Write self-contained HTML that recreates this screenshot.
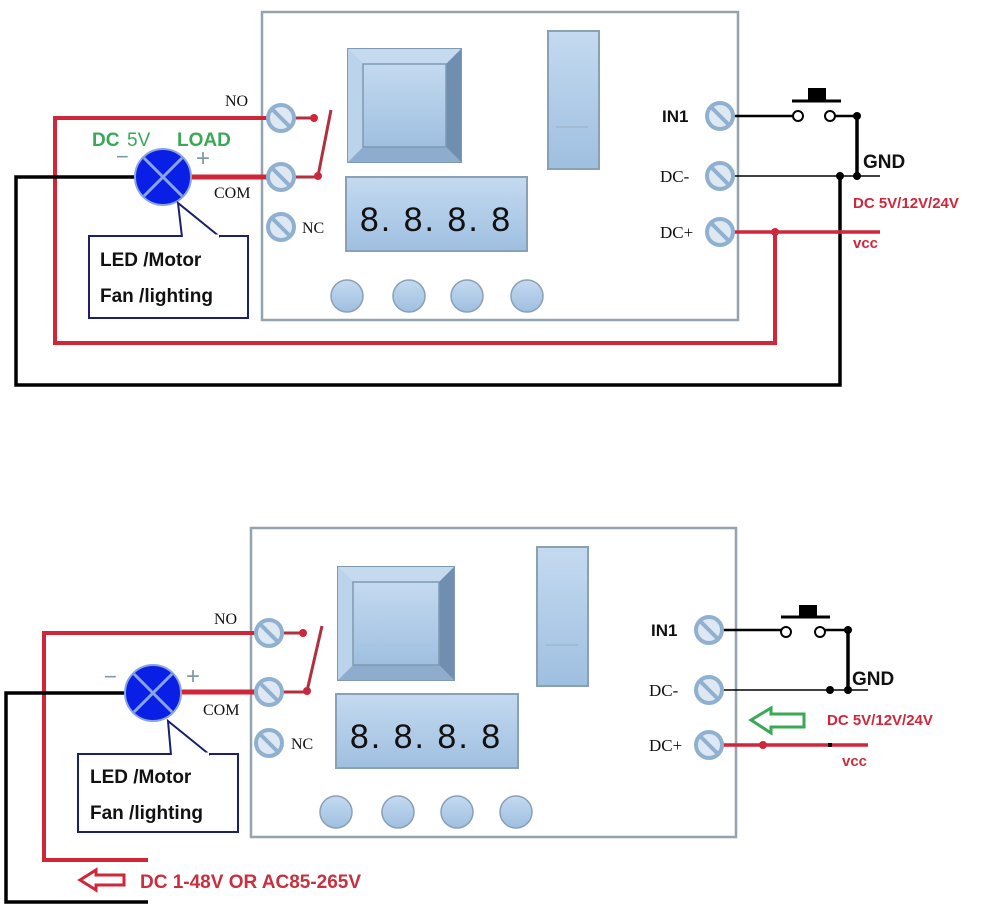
<!DOCTYPE html>
<html><head><meta charset="utf-8"><style>
html,body{margin:0;padding:0;background:#fff;}
svg{display:block;}
text{font-family:"Liberation Sans",sans-serif;}
.serif{font-family:"Liberation Serif",serif;}
</style></head><body>
<svg width="1000" height="918" viewBox="0 0 1000 918" xmlns="http://www.w3.org/2000/svg">
<defs>
<linearGradient id="bl" x1="0" y1="0" x2="0" y2="1"><stop offset="0" stop-color="#c4daf0"/><stop offset="1" stop-color="#9fbfe0"/></linearGradient>
<g id="term"><circle r="13" fill="#dde8f3" stroke="#8fb0cf" stroke-width="4"/><line x1="-8" y1="-8" x2="8" y2="8" stroke="#8fb0cf" stroke-width="4"/></g>
<g id="lamp"><circle r="28" fill="#0a1fe6" stroke="#8aa4e0" stroke-width="2"/><line x1="-19" y1="-19" x2="19" y2="19" stroke="#8aa4e8" stroke-width="3"/><line x1="19" y1="-19" x2="-19" y2="19" stroke="#8aa4e8" stroke-width="3"/></g>
</defs>

<!-- ============ TOP PANEL ============ -->
<rect x="262" y="12" width="476" height="308" fill="#fff" stroke="#93a4ae" stroke-width="2.5"/>
<!-- relay -->
<rect x="348" y="49" width="113" height="113" fill="#a9c6e6" stroke="#7f99b2" stroke-width="2"/>
<polygon points="348,49 461,49 446,64 363,64" fill="#c5daef"/>
<polygon points="461,49 461,162 446,147 446,64" fill="#6f8eb0"/>
<polygon points="348,162 461,162 446,147 363,147" fill="#8eaccd"/>
<polygon points="348,49 363,64 363,147 348,162" fill="#bcd3ec"/>
<rect x="363" y="64" width="83" height="83" fill="url(#bl)" stroke="#7f99b2" stroke-width="1.5"/>
<!-- switch -->
<rect x="548" y="31" width="51" height="138" fill="url(#bl)" stroke="#8aa0b5" stroke-width="2"/>
<line x1="556" y1="127" x2="588" y2="127" stroke="#9fb6cf" stroke-width="1.5"/>
<!-- display -->
<rect x="346" y="177" width="181" height="74" fill="url(#bl)" stroke="#8aa0b5" stroke-width="2"/>
<text x="436" y="231" text-anchor="middle" font-size="34" fill="#111" letter-spacing="2">8. 8. 8. 8</text>
<!-- buttons -->
<g fill="url(#bl)" stroke="#8aa0b5" stroke-width="1.5">
<circle cx="347" cy="296" r="16"/><circle cx="409" cy="296" r="16"/><circle cx="467" cy="296" r="16"/><circle cx="527" cy="296" r="16"/></g>

<!-- wires top -->
<polyline points="268,118 55,118 55,343 775,343 775,232" fill="none" stroke="#d0263a" stroke-width="4"/>
<polyline points="135,177 16,177 16,385 840,385 840,176" fill="none" stroke="#000" stroke-width="3.5"/>
<line x1="190" y1="177" x2="268" y2="177" stroke="#d0263a" stroke-width="5"/>
<line x1="294" y1="118" x2="314" y2="118" stroke="#b03040" stroke-width="3"/>
<circle cx="314" cy="118" r="4" fill="#d0263a"/>
<line x1="294" y1="177" x2="318" y2="177" stroke="#b03040" stroke-width="3"/>
<circle cx="318" cy="176" r="4" fill="#d0263a"/>
<line x1="318" y1="176" x2="331" y2="110" stroke="#b03040" stroke-width="3"/>
<use href="#term" x="281" y="118"/><use href="#term" x="281" y="177"/><use href="#term" x="281" y="227"/>
<text x="225" y="106" class="serif" font-size="16" fill="#111">NO</text>
<text x="214" y="198" class="serif" font-size="16" fill="#111">COM</text>
<text x="302" y="233" class="serif" font-size="16" fill="#111">NC</text>
<use href="#lamp" x="163" y="177"/>
<text x="92" y="146" font-size="19" font-weight="bold" fill="#3aa856">DC</text>
<text x="127" y="146" font-size="19" fill="#3aa856">5V</text>
<text x="177" y="146" font-size="19" font-weight="bold" fill="#3aa856">LOAD</text>
<text x="116" y="164" font-size="22" fill="#7d9aa5">−</text>
<text x="196" y="166" font-size="24" fill="#7d9aa5">+</text>
<!-- callout -->
<rect x="89" y="236" width="159" height="82" fill="#fff" stroke="#1c1f6e" stroke-width="2"/>
<polyline points="182,237 178,203 220,237" fill="#fff" stroke="#1c1f6e" stroke-width="2"/>
<line x1="183" y1="236" x2="219" y2="236" stroke="#fff" stroke-width="3"/>
<text x="100" y="266" font-size="19" font-weight="bold" fill="#111">LED /Motor</text>
<text x="100" y="302" font-size="19" font-weight="bold" fill="#111">Fan /lighting</text>

<!-- right top -->
<line x1="733" y1="116" x2="793" y2="116" stroke="#000" stroke-width="2.5"/>
<circle cx="798" cy="116" r="5" fill="#fff" stroke="#000" stroke-width="2"/>
<circle cx="830" cy="116" r="5" fill="#fff" stroke="#000" stroke-width="2"/>
<line x1="792" y1="101" x2="841" y2="101" stroke="#000" stroke-width="3"/>
<rect x="808" y="88" width="18" height="13" fill="#000"/>
<line x1="835" y1="116" x2="857" y2="116" stroke="#000" stroke-width="2.5"/>
<line x1="857" y1="116" x2="857" y2="176" stroke="#000" stroke-width="3.5"/>
<circle cx="857" cy="116" r="4" fill="#000"/>
<line x1="733" y1="176" x2="880" y2="176" stroke="#000" stroke-width="1.5"/>
<circle cx="840" cy="176" r="4" fill="#000"/><circle cx="857" cy="176" r="4" fill="#000"/>
<line x1="733" y1="232" x2="880" y2="232" stroke="#d0263a" stroke-width="3.5"/>
<circle cx="775" cy="232" r="4" fill="#d0263a"/>
<use href="#term" x="720" y="116"/><use href="#term" x="720" y="176"/><use href="#term" x="720" y="232"/>
<text x="662" y="122" font-size="17" font-weight="bold" fill="#111">IN1</text>
<text x="660" y="182" class="serif" font-size="17" fill="#111">DC-</text>
<text x="660" y="238" class="serif" font-size="17" fill="#111">DC+</text>
<text x="863" y="168" font-size="19" font-weight="bold" fill="#111">GND</text>
<text x="853" y="208" font-size="15" font-weight="bold" fill="#d0263a">DC 5V/12V/24V</text>
<text x="853" y="248" font-size="15" font-weight="bold" fill="#d0263a">vcc</text>

<!-- ============ BOTTOM PANEL ============ -->
<rect x="251" y="528" width="485" height="309" fill="#fff" stroke="#93a4ae" stroke-width="2.5"/>
<rect x="338" y="567" width="116" height="113" fill="#a9c6e6" stroke="#7f99b2" stroke-width="2"/>
<polygon points="338,567 454,567 439,582 353,582" fill="#c5daef"/>
<polygon points="454,567 454,680 439,665 439,582" fill="#6f8eb0"/>
<polygon points="338,680 454,680 439,665 353,665" fill="#8eaccd"/>
<polygon points="338,567 353,582 353,665 338,680" fill="#bcd3ec"/>
<rect x="353" y="582" width="86" height="83" fill="url(#bl)" stroke="#7f99b2" stroke-width="1.5"/>
<rect x="537" y="547" width="51" height="139" fill="url(#bl)" stroke="#8aa0b5" stroke-width="2"/>
<line x1="545" y1="645" x2="578" y2="645" stroke="#9fb6cf" stroke-width="1.5"/>
<rect x="336" y="694" width="182" height="74" fill="url(#bl)" stroke="#8aa0b5" stroke-width="2"/>
<text x="426" y="748" text-anchor="middle" font-size="34" fill="#111" letter-spacing="2">8. 8. 8. 8</text>
<g fill="url(#bl)" stroke="#8aa0b5" stroke-width="1.5">
<circle cx="336" cy="812" r="16"/><circle cx="398" cy="812" r="16"/><circle cx="457" cy="812" r="16"/><circle cx="516" cy="812" r="16"/></g>

<polyline points="256,633 44,633 44,860 148,860" fill="none" stroke="#d0263a" stroke-width="4"/>
<polyline points="125,693 6,693 6,902 148,902" fill="none" stroke="#000" stroke-width="3.5"/>
<line x1="181" y1="692" x2="256" y2="692" stroke="#d0263a" stroke-width="5"/>
<line x1="282" y1="633" x2="303" y2="633" stroke="#b03040" stroke-width="3"/>
<circle cx="303" cy="633" r="4" fill="#d0263a"/>
<line x1="282" y1="692" x2="307" y2="692" stroke="#b03040" stroke-width="3"/>
<circle cx="307" cy="691" r="4" fill="#d0263a"/>
<line x1="307" y1="691" x2="322" y2="626" stroke="#b03040" stroke-width="3"/>
<use href="#term" x="269" y="633"/><use href="#term" x="269" y="692"/><use href="#term" x="269" y="743"/>
<text x="214" y="624" class="serif" font-size="16" fill="#111">NO</text>
<text x="203" y="715" class="serif" font-size="16" fill="#111">COM</text>
<text x="291" y="749" class="serif" font-size="16" fill="#111">NC</text>
<use href="#lamp" x="153" y="693"/>
<text x="104" y="684" font-size="22" fill="#7d9aa5">−</text>
<text x="186" y="684" font-size="24" fill="#7d9aa5">+</text>
<rect x="78" y="754" width="160" height="78" fill="#fff" stroke="#1c1f6e" stroke-width="2"/>
<polyline points="171,755 168,721 210,755" fill="#fff" stroke="#1c1f6e" stroke-width="2"/>
<line x1="172" y1="754" x2="209" y2="754" stroke="#fff" stroke-width="3"/>
<text x="90" y="783" font-size="19" font-weight="bold" fill="#111">LED /Motor</text>
<text x="90" y="819" font-size="19" font-weight="bold" fill="#111">Fan /lighting</text>
<polygon points="80,880 96,870 96,875 124,875 124,885 96,885 96,890" fill="#fff" stroke="#d0263a" stroke-width="3"/>
<text x="140" y="888" font-size="19" font-weight="bold" fill="#c8303e">DC 1-48V OR AC85-265V</text>

<line x1="722" y1="630" x2="782" y2="630" stroke="#000" stroke-width="2.5"/>
<circle cx="786" cy="632" r="5" fill="#fff" stroke="#000" stroke-width="2"/>
<circle cx="820" cy="632" r="5" fill="#fff" stroke="#000" stroke-width="2"/>
<line x1="781" y1="617" x2="830" y2="617" stroke="#000" stroke-width="3"/>
<rect x="799" y="605" width="18" height="12" fill="#000"/>
<line x1="825" y1="630" x2="848" y2="630" stroke="#000" stroke-width="2.5"/>
<line x1="848" y1="630" x2="848" y2="690" stroke="#000" stroke-width="3.5"/>
<circle cx="848" cy="630" r="4" fill="#000"/>
<line x1="722" y1="690" x2="868" y2="690" stroke="#000" stroke-width="1.5"/>
<circle cx="830" cy="690" r="4" fill="#000"/><circle cx="848" cy="690" r="4" fill="#000"/>
<line x1="722" y1="745" x2="868" y2="745" stroke="#d0263a" stroke-width="3.5"/>
<circle cx="763" cy="745" r="4" fill="#d0263a"/>
<rect x="828" y="743" width="4" height="4" fill="#000"/>
<use href="#term" x="709" y="630"/><use href="#term" x="709" y="690"/><use href="#term" x="709" y="745"/>
<polygon points="751,720 771,708 771,714 804,714 804,727 771,727 771,733" fill="#fff" stroke="#3aa856" stroke-width="3"/>
<text x="651" y="636" font-size="17" font-weight="bold" fill="#111">IN1</text>
<text x="649" y="696" class="serif" font-size="17" fill="#111">DC-</text>
<text x="649" y="751" class="serif" font-size="17" fill="#111">DC+</text>
<text x="852" y="685" font-size="19" font-weight="bold" fill="#111">GND</text>
<text x="827" y="725" font-size="15" font-weight="bold" fill="#d0263a">DC 5V/12V/24V</text>
<text x="842" y="766" font-size="15" font-weight="bold" fill="#c8303e">vcc</text>
</svg>
</body></html>
